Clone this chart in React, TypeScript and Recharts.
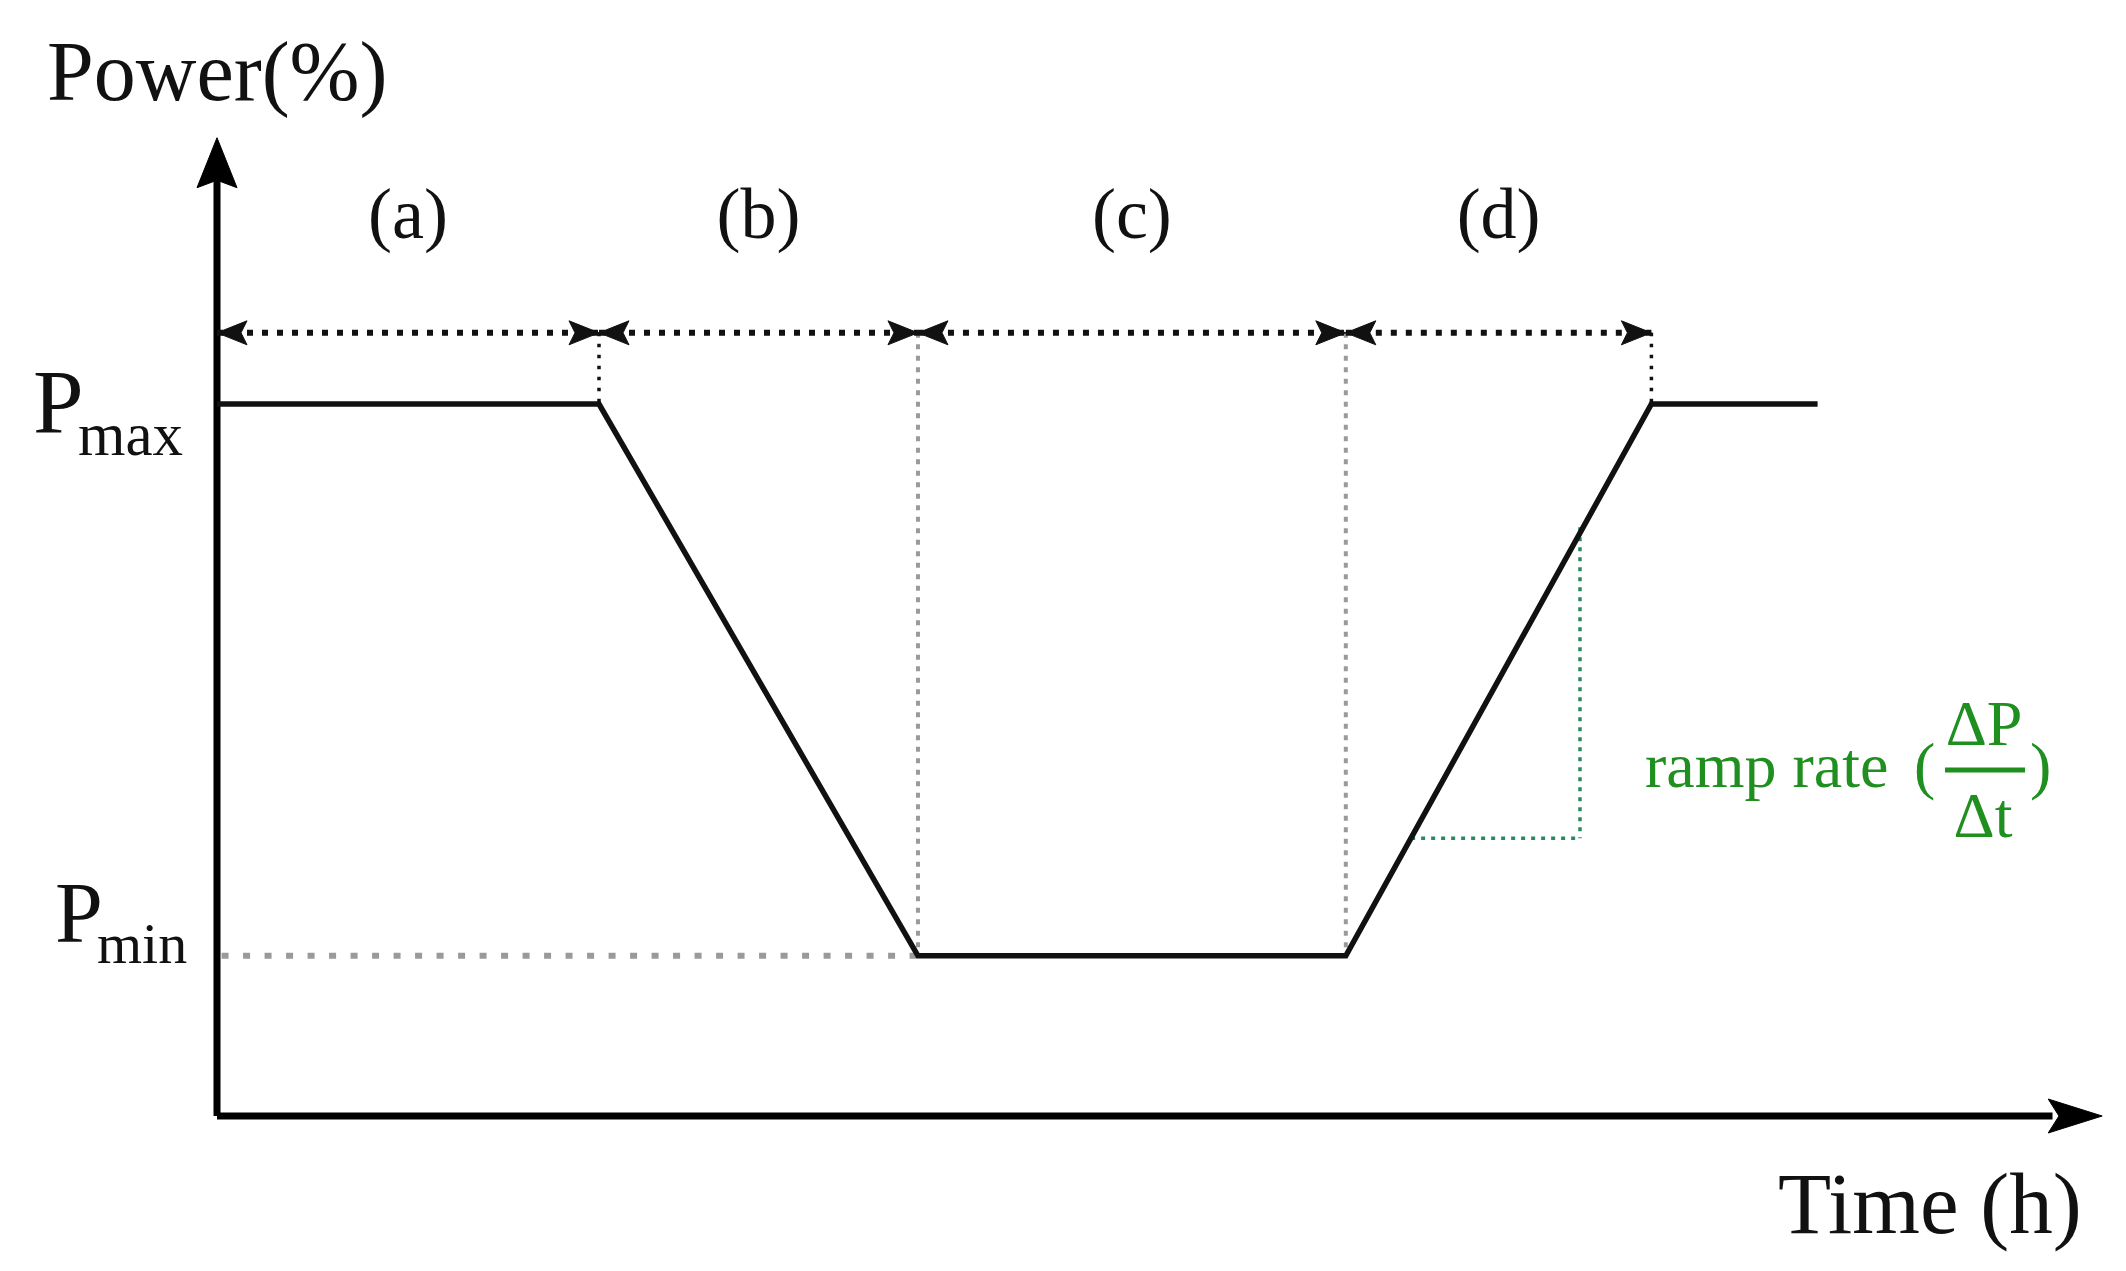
import React from 'react';
import { ComposedChart, Line, XAxis, YAxis, ReferenceLine, Scatter } from 'recharts';

// ---- data (time in h, power in %) ----
const timePoints = [0, 10, 18.35, 29.55, 37.55, 41.9];
const powerValues = [100, 100, 22.5, 22.5, 100, 100];
const phaseBounds = [0, 10, 18.35, 29.55, 37.55];
const phaseLabels = ['(a)', '(b)', '(c)', '(d)'];
const phaseArrowLevel = [110];
const phaseLabelLevel = [123.3];
const pMaxValue = [100];
const pMinValue = [22.5];
const rampTimes = [31.26, 35.68];
const rampPowers = [39.0, 82.7];
const xDomain = [0, 49.5];
const yDomain = [0, 140];
const xAxisTip = [49.35];
const yAxisTip = [137.4];

const FONT = '"Liberation Serif", "Times New Roman", serif';
const GREEN_TEXT = '#1f8f1f';
const GREEN_LINE = '#2a8a5e';

const lineData = timePoints.map((t, i) => ({ t, p: powerValues[i] }));
const lastBound = phaseBounds.length - 1;
const leftArrowData = phaseBounds.slice(0, lastBound).map((t) => ({ t, p: phaseArrowLevel[0] }));
const rightArrowData = phaseBounds.slice(1).map((t) => ({ t, p: phaseArrowLevel[0] }));
const labelData = phaseLabels.map((label, i) => ({
  t: (phaseBounds[i] + phaseBounds[i + 1]) / 2,
  p: phaseLabelLevel[0],
  label,
}));
const xTipData = [{ t: xAxisTip[0], p: 0 }];
const yTipData = [{ t: 0, p: yAxisTip[0] }];

const makeArrow = (dir: string, len: number, hw: number, color: string) => (props: any) => {
  const { cx, cy } = props;
  if (cx == null || cy == null) return <g />;
  let pts = '';
  if (dir === 'left') pts = `${cx},${cy} ${cx + len},${cy - hw} ${cx + len * 0.8},${cy} ${cx + len},${cy + hw}`;
  if (dir === 'right') pts = `${cx},${cy} ${cx - len},${cy - hw} ${cx - len * 0.8},${cy} ${cx - len},${cy + hw}`;
  if (dir === 'up') pts = `${cx},${cy} ${cx - hw},${cy + len} ${cx},${cy + len * 0.85} ${cx + hw},${cy + len}`;
  return <polygon points={pts} fill={color} stroke={color} strokeWidth={1} strokeLinejoin="miter" />;
};

const LabelShape = (props: any) => {
  const { cx, cy, payload } = props;
  if (cx == null) return <g />;
  return (
    <text x={cx} y={cy} textAnchor="middle" fontFamily={FONT} fontSize={72} fill="#111">
      {payload.label}
    </text>
  );
};

export default function App() {
  const segDot = { stroke: '#111', strokeWidth: 6, strokeDasharray: '6 9' };
  return (
    <div style={{ position: 'absolute', left: 0, top: 0, width: 2126, height: 1271, background: '#fff' }}>
      <ComposedChart
        width={2126}
        height={1271}
        data={lineData}
        margin={{ top: 119.2, right: 18.1, bottom: 155, left: 217 }}
      >
        <XAxis type="number" dataKey="t" domain={xDomain} hide />
        <YAxis type="number" dataKey="p" domain={yDomain} hide />

        {/* axes */}
        <ReferenceLine segment={[{ x: 0, y: 0 }, { x: xAxisTip[0] - 1.3, y: 0 }]} stroke="#000" strokeWidth={7} ifOverflow="visible" />
        <ReferenceLine segment={[{ x: 0, y: 0 }, { x: 0, y: yAxisTip[0] - 6 }]} stroke="#000" strokeWidth={7} ifOverflow="visible" />

        {/* Pmin guide */}
        <ReferenceLine segment={[{ x: phaseBounds[0] + 0.12, y: pMinValue[0] }, { x: phaseBounds[2], y: pMinValue[0] }]} stroke="#9a9a9a" strokeWidth={6} strokeDasharray="7 14.5" ifOverflow="visible" />

        {/* boundary verticals */}
        <ReferenceLine segment={[{ x: phaseBounds[1], y: phaseArrowLevel[0] }, { x: phaseBounds[1], y: pMaxValue[0] }]} stroke="#111" strokeWidth={3.5} strokeDasharray="3.5 7.5" ifOverflow="visible" />
        <ReferenceLine segment={[{ x: phaseBounds[4], y: phaseArrowLevel[0] }, { x: phaseBounds[4], y: pMaxValue[0] }]} stroke="#111" strokeWidth={3.5} strokeDasharray="3.5 7.5" ifOverflow="visible" />
        <ReferenceLine segment={[{ x: phaseBounds[2], y: phaseArrowLevel[0] }, { x: phaseBounds[2], y: pMinValue[0] }]} stroke="#9a9a9a" strokeWidth={4} strokeDasharray="5 6.5" ifOverflow="visible" />
        <ReferenceLine segment={[{ x: phaseBounds[3], y: phaseArrowLevel[0] }, { x: phaseBounds[3], y: pMinValue[0] }]} stroke="#9a9a9a" strokeWidth={4} strokeDasharray="5 6.5" ifOverflow="visible" />

        {/* phase arrows (dotted) */}
        {phaseBounds.slice(0, lastBound).map((t, i) => (
          <ReferenceLine
            key={'ph' + i}
            segment={[{ x: t, y: phaseArrowLevel[0] }, { x: phaseBounds[i + 1], y: phaseArrowLevel[0] }]}
            {...segDot}
            ifOverflow="visible"
          />
        ))}

        {/* ramp rate triangle */}
        <ReferenceLine segment={[{ x: rampTimes[1], y: rampPowers[1] }, { x: rampTimes[1], y: rampPowers[0] }]} stroke={GREEN_LINE} strokeWidth={3.5} strokeDasharray="4 6" ifOverflow="visible" />
        <ReferenceLine segment={[{ x: rampTimes[0], y: rampPowers[0] }, { x: rampTimes[1], y: rampPowers[0] }]} stroke={GREEN_LINE} strokeWidth={3.5} strokeDasharray="4 6" ifOverflow="visible" />

        {/* power profile */}
        <Line type="linear" dataKey="p" stroke="#111" strokeWidth={5.5} dot={false} activeDot={false} isAnimationActive={false} />

        <Scatter data={leftArrowData} shape={makeArrow('left', 30, 12, '#111')} isAnimationActive={false} />
        <Scatter data={rightArrowData} shape={makeArrow('right', 30, 12, '#111')} isAnimationActive={false} />
        <Scatter data={xTipData} shape={makeArrow('right', 54, 17, '#000')} isAnimationActive={false} />
        <Scatter data={yTipData} shape={makeArrow('up', 50, 20, '#000')} isAnimationActive={false} />
        <Scatter data={labelData} shape={LabelShape} isAnimationActive={false} />

        {/* texts */}
        <text x={47} y={100} fontFamily={FONT} fontSize={84} fill="#111">Power(%)</text>
        <text x={1778} y={1233} fontFamily={FONT} fontSize={87} fill="#111">Time (h)</text>
        <text x={33} y={433} fontFamily={FONT} fontSize={91} fill="#111">P</text>
        <text x={78} y={455} fontFamily={FONT} fontSize={61} fill="#111">max</text>
        <text x={55} y={942} fontFamily={FONT} fontSize={86} fill="#111">P</text>
        <text x={97} y={963} fontFamily={FONT} fontSize={58} fill="#111">min</text>

        <text x={1645} y={787} fontFamily={FONT} fontSize={64} fill={GREEN_TEXT}>ramp rate</text>
        <text x={1914} y={787} fontFamily={FONT} fontSize={64} fill={GREEN_TEXT}>(</text>
        <text x={1984} y={745} textAnchor="middle" fontFamily={FONT} fontSize={64} fill={GREEN_TEXT}>ΔP</text>
        <line x1={1945} y1={770} x2={2025} y2={770} stroke={GREEN_TEXT} strokeWidth={5} />
        <text x={1983} y={837} textAnchor="middle" fontFamily={FONT} fontSize={64} fill={GREEN_TEXT}>Δt</text>
        <text x={2030} y={787} fontFamily={FONT} fontSize={64} fill={GREEN_TEXT}>)</text>
      </ComposedChart>
    </div>
  );
}
